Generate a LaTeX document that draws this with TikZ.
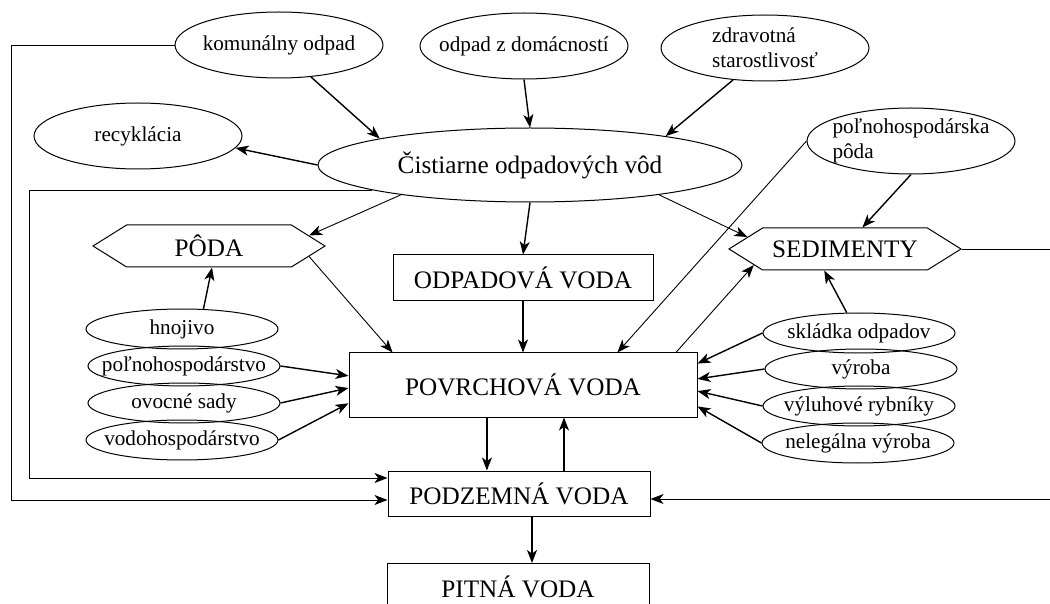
\documentclass[tikz,border=0pt]{standalone}
\usepackage{fontspec}
\setmainfont{Liberation Serif}
\usetikzlibrary{shapes.geometric,shapes.symbols,arrows.meta}
\newcommand{\bigtxt}{\fontsize{12.6}{15}\selectfont}
\newcommand{\smalltxt}{\fontsize{10.6}{12.6}\selectfont}

\begin{document}
\begin{tikzpicture}[x=0.5pt,y=-0.5pt,
  oval/.style={ellipse,draw,line width=0.5pt,inner xsep=-12pt,inner ysep=0pt,minimum width=104pt,minimum height=33pt,font=\smalltxt},
  soval/.style={oval,minimum width=96pt,minimum height=20pt},
  box/.style={rectangle,draw,line width=0.5pt,inner sep=0pt,font=\bigtxt},
  hexa/.style={signal,signal from=nowhere,signal to=west and east,signal pointer angle=64,draw,line width=0.5pt,inner sep=0pt,minimum width=116pt,minimum height=21pt,font=\bigtxt},
  flow/.style={-{Stealth[length=6.5pt,width=5pt,inset=1.8pt]},line width=0.7pt},
  thinflow/.style={flow,line width=0.45pt}]
\useasboundingbox (0,0) rectangle (1050,604);
\clip (0,0) rectangle (1050,604);

% top row
\node[oval] (kom) at (279,45) {komunálny odpad};
\node[oval] (dom) at (524,46) {odpad z domácností};
\node[oval,align=left] (zdr) at (765,48) {zdravotná\\starostlivosť};
\node[oval] (rec) at (138,136) {recyklácia};
\node[oval,minimum width=212pt,minimum height=37pt,font=\bigtxt] (cist) at (530,165) {Čistiarne odpadových vôd};
\node[oval,align=left] (ppoda) at (911,141) {poľnohospodárska\\pôda};

% middle
\node[hexa] (poda) at (209,246) {PÔDA};
\node[hexa] (sed) at (845,249) {SEDIMENTY};
\node[box,minimum width=130pt,minimum height=23pt] (odp) at (523,278) {ODPADOVÁ VODA};
\node[box,minimum width=174pt,minimum height=32pt] (povr) at (523,385) {POVRCHOVÁ VODA};
\node[box,minimum width=131pt,minimum height=22.5pt] (podz) at (519,493.5) {PODZEMNÁ VODA};
\node[box,minimum width=131pt,minimum height=23.5pt] (pit) at (518,587) {PITNÁ VODA};

% sources left and right
\node[soval] (hno) at (182,329) {hnojivo};
\node[soval] (pol) at (184,366) {poľnohospodárstvo};
\node[soval] (ovo) at (184,403) {ovocné sady};
\node[soval] (vod) at (182,440) {vodohospodárstvo};
\node[soval] (skl) at (859,333) {skládka odpadov};
\node[soval] (vyr) at (861,369) {výroba};
\node[soval] (vyl) at (859,406) {výluhové rybníky};
\node[soval] (nel) at (858,443) {nelegálna výroba};

\draw[flow] (kom.-45) -- (cist.170);
\draw[flow] (dom.south) -- (cist.north);
\draw[flow] (zdr.-135) -- (cist.12);
\draw[flow] (cist.west) -- (rec.-7);
\draw[thinflow] (cist.-167) -- (poda.6);
\draw[flow] (cist.south) -- (odp.north);
\draw[thinflow] (cist.-13) -- (sed.173);
\draw[thinflow] (ppoda.west) -- (povr.19);
\draw[flow] (ppoda.south) -- (sed.51);
\draw[thinflow] (povr.12) -- (sed.190);
\draw[thinflow] (poda.-6) -- (povr.166);
\draw[flow] (hno.43) -- (poda.-82);
\draw[flow] (skl.121) -- (sed.226);
\foreach \s/\a in {pol/177,ovo/181,vod/186}
  \draw[flow] (\s.east) -- (povr.\a);
\foreach \s/\a in {skl/7,vyr/2,vyl/-2,nel/-7}
  \draw[flow] (\s.west) -- (povr.\a);

\draw[flow] (odp.south) -- (povr.north);
\draw[flow] (povr.222) -- (povr.222 |- podz.north);
\draw[flow] ([xshift=22.5pt]podz.north) -- ([xshift=22.5pt]podz.north |- povr.south);
\draw[flow] ([xshift=6.5pt]podz.south) -- ([xshift=6.5pt]podz.south |- pit.north);

% return lines
\draw[thinflow] (kom.west) -- ++(-163,0) |- ([yshift=-3.25pt]podz.west);
\draw[thinflow] (cist.189) -- ++(-342,0) |- ([yshift=7.75pt]podz.west);
\draw[thinflow] (sed.east) -- ++(110,0) |- ([yshift=-2.75pt]podz.east);
\end{tikzpicture}
\end{document}
